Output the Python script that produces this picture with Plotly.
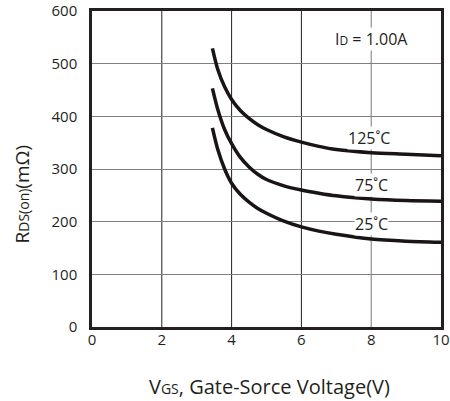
import plotly.graph_objects as go

vgs = [3.45, 3.6, 3.8, 4.0, 4.25, 4.5, 4.75, 5.0, 5.5, 6.0, 6.5, 7.0, 8.0, 9.0, 10.0]
r125 = [529, 490, 456, 432, 411, 396, 384, 375, 361, 351, 343, 337, 331, 328, 325]
r75 = [453, 414, 375, 348, 322, 304, 290, 280, 268, 260, 254, 249, 243, 240, 239]
r25 = [378, 338, 300, 273, 252, 237, 225, 216, 201, 190, 182, 176, 167, 163, 161]

series = [("125", r125), ("75", r75), ("25", r25)]
labels = [("125˚C", 7.95, 359), ("75˚C", 8.01, 269), ("25˚C", 8.02, 195)]
xgrid = [2, 4, 6, 8]

FONT = "Open Sans"
INK = "#231f20"
fig = go.Figure()
for name, ys in series:
    fig.add_trace(go.Scatter(x=vgs, y=ys, mode="lines", name=name,
                             line=dict(color="#1a1414", width=3.5, shape="spline", smoothing=0.8),
                             showlegend=False, hoverinfo="skip"))

for xv in xgrid:
    fig.add_shape(type="line", x0=xv, x1=xv, y0=0, y1=600, xref="x", yref="y", layer="below",
                  line=dict(color="#777777" if xv == 8 else "#222222", width=1))

for txt, xv, yv in labels:
    fig.add_annotation(x=xv, y=yv, text=txt, showarrow=False, bgcolor="white",
                       font=dict(family=FONT, size=16, color=INK), borderpad=0)

fig.add_annotation(x=8.02, y=546, text="I<span style='font-size:12px'>D</span> = 1.00A",
                   showarrow=False, font=dict(family=FONT, size=16, color=INK),
                   bgcolor="white", borderpad=0)

fig.add_annotation(xref="paper", yref="paper", x=0.509, y=-0.187, yanchor="middle",
                   text="V<span style='font-size:14px'>GS</span>, Gate-Sorce Voltage(V)",
                   showarrow=False, font=dict(family=FONT, size=20, color=INK))
fig.add_annotation(xref="paper", yref="paper", x=-0.2, y=0.42, xanchor="center", yanchor="middle",
                   text="R<span style='font-size:14px'>DS(on)</span>(mΩ)", textangle=-90,
                   showarrow=False, font=dict(family=FONT, size=19, color=INK))

fig.update_xaxes(range=[0, 10], tickvals=[0, 2, 4, 6, 8, 10], showgrid=False,
                 showline=True, linecolor=INK, automargin=False,
                 linewidth=2.5, mirror=True, zeroline=False, ticks="",
                 tickfont=dict(family=FONT, size=15, color=INK), ticklabelstandoff=-3)
fig.update_yaxes(range=[0, 600], tickvals=[0, 100, 200, 300, 400, 500, 600], showgrid=True,
                 gridcolor="#808080", gridwidth=1, showline=True, linecolor=INK, automargin=False,
                 linewidth=2.5, mirror=True, zeroline=False, ticks="",
                 tickfont=dict(family=FONT, size=15, color=INK), ticklabelstandoff=9)

fig.update_layout(width=450, height=401, margin=dict(l=92, r=9, t=11, b=74),
                  paper_bgcolor="white", plot_bgcolor="white")
fig.write_html("out.html")
